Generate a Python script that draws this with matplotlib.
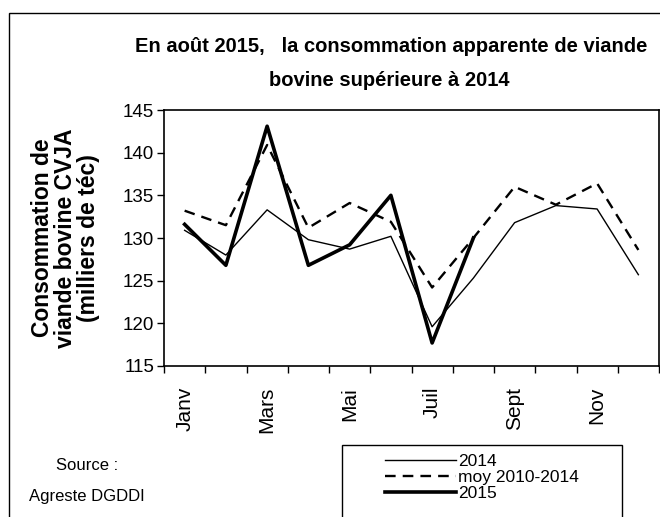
import matplotlib
matplotlib.use("Agg")
import matplotlib.pyplot as plt
from matplotlib.patches import Rectangle
import numpy as np

# Data (milliers de téc)
months = ["Janv", "Fév", "Mars", "Avr", "Mai", "Juin",
          "Juil", "Août", "Sept", "Oct", "Nov", "Déc"]
label_months = ["Janv", "", "Mars", "", "Mai", "", "Juil", "", "Sept", "", "Nov", ""]
cons_2014 = [130.9, 128.0, 133.3, 129.8, 128.7, 130.2,
             119.6, 125.3, 131.8, 133.8, 133.4, 125.7]
cons_moy = [133.2, 131.5, 140.9, 131.2, 134.1, 131.9,
            124.2, 130.0, 136.0, 133.9, 136.4, 128.6]
cons_2015 = [131.6, 126.8, 143.1, 126.8, 129.2, 135.0, 117.7, 130.0]

plt.rcParams["font.family"] = ["Liberation Sans", "DejaVu Sans"]

W, H = 660, 517
fig = plt.figure(figsize=(W / 100, H / 100), dpi=100)


def fx(px):
    return px / W


def fy(py):
    return 1 - py / H


# outer frame (cropped on right and bottom)
fig.patches.append(Rectangle((fx(9), fy(700)), 2, fy(13) - fy(700),
                             transform=fig.transFigure, fill=False,
                             edgecolor="black", linewidth=1.0))

ax = fig.add_axes([fx(164), fy(366), fx(659) - fx(164), fy(110) - fy(366)])
x = np.arange(len(months))

ax.plot(x, cons_2014, color="black", linewidth=1.0, label="2014")
ax.plot(x, cons_moy, color="black", linewidth=1.7, linestyle=(0, (4.5, 3)),
        label="moy 2010-2014")
ax.plot(x[:len(cons_2015)], cons_2015, color="black", linewidth=2.6,
        label="2015")

ax.set_xlim(-0.5, 11.5)
ax.set_ylim(115, 145)
ax.set_yticks(np.arange(115, 146, 5))
ax.tick_params(axis="y", direction="out", length=5, width=1, labelsize=13.5, pad=2)

ax.set_xticks(x)
ax.set_xticklabels(label_months, rotation=90, fontsize=15)
ax.tick_params(axis="x", which="major", length=0, pad=15)
ax.set_xticks(np.arange(-0.5, 12, 1), minor=True)
ax.tick_params(axis="x", which="minor", direction="out", length=5, width=1)

for s in ax.spines.values():
    s.set_linewidth(1.2)

# titles and labels
fig.text(fx(391), fy(47), "En août 2015,   la consommation apparente de viande",
         ha="center", va="center", fontsize=14.5, weight="bold")
fig.text(fx(389), fy(80), "bovine supérieure à 2014",
         ha="center", va="center", fontsize=14.5, weight="bold")
fig.text(fx(66), fy(238), "Consommation de\nviande bovine CVJA\n(milliers de téc)",
         rotation=90, ha="center", va="center", fontsize=16.5, weight="bold",
         linespacing=1.0)

fig.text(fx(87), fy(466), "Source :", ha="center", va="center", fontsize=12)
fig.text(fx(87), fy(497), "Agreste DGDDI", ha="center", va="center", fontsize=12)

# legend box
fig.patches.append(Rectangle((fx(342), fy(700)), fx(622) - fx(342), fy(445) - fy(700),
                             transform=fig.transFigure, fill=False,
                             edgecolor="black", linewidth=1.0))
handles, labels = ax.get_legend_handles_labels()
fig.legend(handles, labels, loc="upper left", bbox_to_anchor=(fx(385), fy(454)),
           frameon=False, fontsize=12.5, handlelength=4.1, handletextpad=0.1,
           labelspacing=0.05, borderpad=0, borderaxespad=0)

fig.savefig("out.png", dpi=100, facecolor="white")
